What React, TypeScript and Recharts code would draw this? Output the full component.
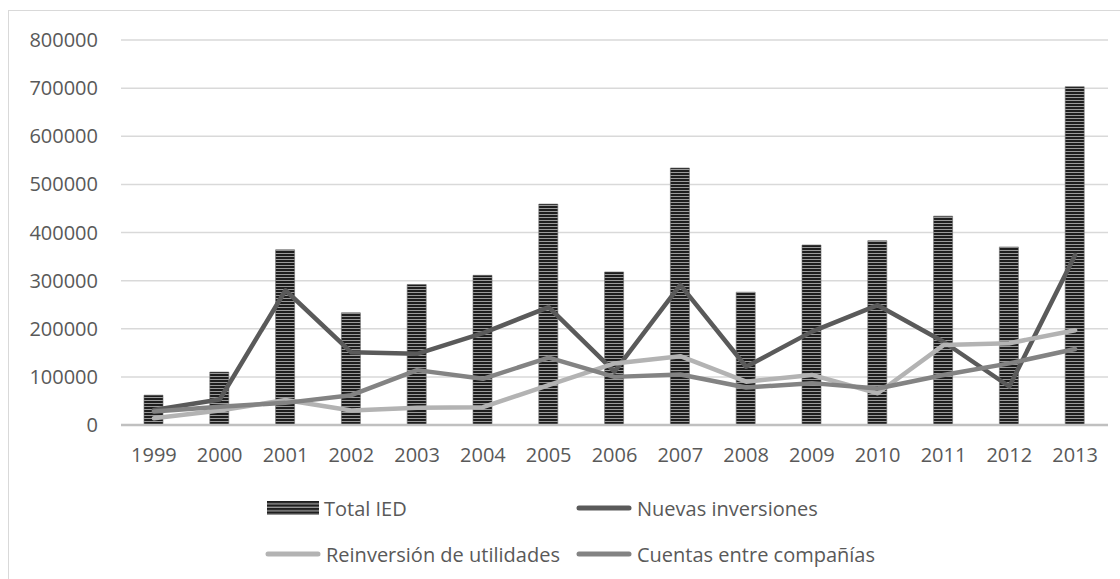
import { Bar, CartesianGrid, ComposedChart, Line, XAxis, YAxis } from "recharts";

const years = ["1999", "2000", "2001", "2002", "2003", "2004", "2005", "2006", "2007", "2008", "2009", "2010", "2011", "2012", "2013"];
const totalIED = [62000, 110000, 364000, 233000, 292000, 311000, 459000, 318000, 534000, 276000, 374000, 383000, 434000, 370000, 703000];
const nuevas = [31000, 53000, 280000, 151000, 148000, 191000, 245000, 111000, 291000, 121000, 194000, 249000, 173000, 80000, 353000];
const reinversion = [14000, 30000, 52000, 30000, 36000, 37000, 83000, 128000, 143000, 90000, 104000, 66000, 166000, 170000, 197000];
const cuentas = [28000, 38000, 46000, 62000, 114000, 96000, 140000, 100000, 105000, 78000, 87000, 76000, 104000, 128000, 158000];
const yTicks = [0, 100000, 200000, 300000, 400000, 500000, 600000, 700000, 800000];

const INK = "#595959";
const FONT = "'Open Sans', sans-serif";

const data = years.map((y, i) => ({
  year: y,
  total: totalIED[i],
  nuevas: nuevas[i],
  reinversion: reinversion[i],
  cuentas: cuentas[i],
}));

const lineSeries = [
  { key: "nuevas", name: "Nuevas inversiones", color: "#5a5a5a" },
  { key: "reinversion", name: "Reinversión de utilidades", color: "#b3b3b3" },
  { key: "cuentas", name: "Cuentas entre compañías", color: "#838383" },
];

function StripeSwatch() {
  return (
    <svg width={52} height={14} style={{ display: "block" }}>
      <defs>
        <pattern id="legendStripes" width={4} height={3.5} patternUnits="userSpaceOnUse">
          <rect width={4} height={3.5} fill="#9a9a9a" />
          <rect width={4} height={2.2} fill="#1e1e1e" />
        </pattern>
      </defs>
      <rect x={0} y={0} width={52} height={14} fill="url(#legendStripes)" />
    </svg>
  );
}

function LineSwatch({ color }: { color: string }) {
  return (
    <svg width={56} height={8} style={{ display: "block" }}>
      <line x1={3} y1={4} x2={53} y2={4} stroke={color} strokeWidth={5} strokeLinecap="round" />
    </svg>
  );
}

function LegendItem({ left, top, icon, label }: { left: number; top: number; icon: React.ReactNode; label: string }) {
  return (
    <div style={{ position: "absolute", left, top: top - 14, height: 28, display: "flex", alignItems: "center", gap: 5 }}>
      {icon}
      <span style={{ fontFamily: FONT, fontSize: 20, color: INK, whiteSpace: "nowrap" }}>{label}</span>
    </div>
  );
}

export default function App() {
  return (
    <div
      style={{
        position: "fixed",
        left: 8,
        top: 10,
        width: 1112,
        height: 569,
        borderTop: "1px solid #d9d9d9",
        borderLeft: "1px solid #d9d9d9",
        background: "#fff",
      }}
    >
      <ComposedChart width={1111} height={568} data={data} margin={{ top: 29, right: 12, bottom: 124, left: 0 }}>
        <defs>
          <pattern id="barStripes" width={4} height={3} patternUnits="userSpaceOnUse">
            <rect width={4} height={3} fill="#9a9a9a" />
            <rect width={4} height={2} fill="#1e1e1e" />
          </pattern>
        </defs>
        <CartesianGrid vertical={false} stroke="#d9d9d9" strokeWidth={1.5} />
        <XAxis
          dataKey="year"
          height={30}
          tickLine={false}
          axisLine={{ stroke: "#c0c0c0", strokeWidth: 2.5 }}
          tickMargin={17}
          tick={{ fill: INK, fontSize: 20, fontFamily: FONT }}
          interval={0}
        />
        <YAxis
          width={112}
          domain={[0, 800000]}
          ticks={yTicks}
          tickLine={false}
          axisLine={false}
          tickMargin={17}
          tick={{ fill: INK, fontSize: 20, fontFamily: FONT }}
        />
        <Bar dataKey="total" name="Total IED" barSize={19} fill="url(#barStripes)" stroke="#6a6a6a" strokeWidth={0.6} isAnimationActive={false} />
        {lineSeries.map((s) => (
          <Line
            key={s.key}
            dataKey={s.key}
            name={s.name}
            type="linear"
            stroke={s.color}
            strokeWidth={4.5}
            strokeLinejoin="round"
            strokeLinecap="round"
            dot={false}
            activeDot={false}
            isAnimationActive={false}
          />
        ))}
      </ComposedChart>
      <LegendItem left={258} top={497} icon={<StripeSwatch />} label="Total IED" />
      <LegendItem left={567} top={497} icon={<LineSwatch color={lineSeries[0].color} />} label={lineSeries[0].name} />
      <LegendItem left={256} top={543} icon={<LineSwatch color={lineSeries[1].color} />} label={lineSeries[1].name} />
      <LegendItem left={567} top={543} icon={<LineSwatch color={lineSeries[2].color} />} label={lineSeries[2].name} />
    </div>
  );
}
